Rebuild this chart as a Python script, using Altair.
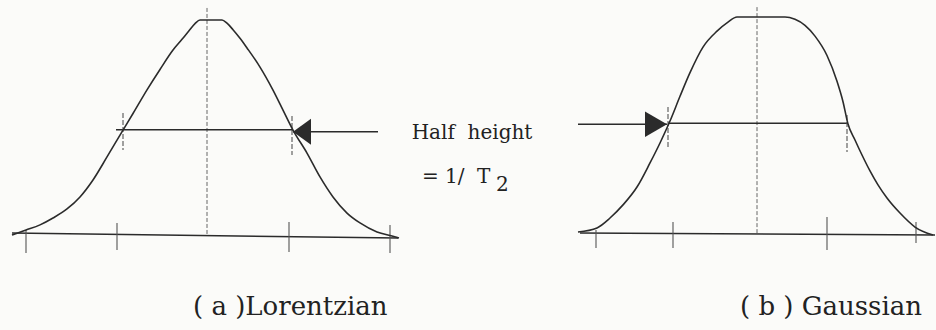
import altair as alt
import pandas as pd

# Line shapes: horizontal position and intensity (% of peak height)
LOR_X = [12, 26, 40, 53, 67, 80, 93, 107, 123, 133, 147, 160, 173, 182, 189, 195, 200,
         222, 227, 233, 240, 247, 260, 273, 283, 293, 307, 320, 333, 347, 360, 377, 392, 399]
LOR_I = [0, 2.3, 4.7, 7.9, 12.1, 17.7, 25.6, 36.3, 48.8, 56.5, 67.5, 77.0, 86.0, 91.0, 95.0, 98.3, 100,
         100, 98.5, 95.5, 91.5, 87.0, 78.1, 67.4, 58.1, 48.8, 38.1, 27.0, 17.7, 10.2, 5.6, 1.4, -0.5, -1.4]

GAU_X = [578, 597, 610, 623, 637, 650, 660, 670, 680, 690, 703, 717, 728, 737,
         785, 795, 805, 815, 827, 837, 843, 848, 855, 862, 870, 878, 887, 900, 915, 933]
GAU_I = [1.4, 3.3, 7.9, 14.0, 22.3, 33.5, 42.8, 53.0, 64.5, 75.5, 87.4, 94.8, 99.0, 101.4,
         101.4, 100.3, 97.5, 92.5, 83.5, 71.5, 62.0, 51.6, 44.2, 37.2, 29.8, 23.3, 17.2, 10.2, 3.7, 0]

# Baselines (x from, x to, level at each end)
BASE_X0 = [12, 580]
BASE_X1 = [398, 935]
BASE_I0 = [0.9, 0.9]
BASE_I1 = [-1.4, 0]

# Short marks along the baselines
TICK_X = [26, 117, 289, 390, 596, 673, 827, 916]
TICK_TOP = [2.3, 5.6, 6.0, 4.7, 2.3, 6.0, 8.4, 6.0]
TICK_BOT = [-8.4, -7.0, -7.9, -8.4, -6.0, -6.0, -7.0, -3.7]

# Centre lines of each peak
CENTER_X = [207, 757]
CENTER_TOP = [105.6, 106.0]
CENTER_BOT = [0, 0.9]

# Width at half height
HALF_X0 = [116, 668]
HALF_X1 = [293, 848]
HALF_I = [49, 52]
HALF_MARK_X = [123, 292, 668, 847]
HALF_MARK_TOP = [56.7, 55.3, 59.5, 55.8]
HALF_MARK_BOT = [39.5, 37.2, 40.5, 38.6]

# Pointers to the half-height crossings
ARROW_X0 = [293, 578]
ARROW_X1 = [378, 667]
ARROW_I = [48, 51.5]

Y_MIN, Y_MAX = -44.19, 109.3
INK = "#2b2b2b"
SERIF = "DejaVu Serif"

xs = alt.Scale(domain=[0, 936], nice=False, zero=False)
ys = alt.Scale(domain=[Y_MIN, Y_MAX], nice=False, zero=False)


def X(f):
    return alt.X(f, type="quantitative", scale=xs, axis=None)


def Y(f):
    return alt.Y(f, type="quantitative", scale=ys, axis=None)


curves = pd.concat([
    pd.DataFrame({"x": LOR_X, "i": LOR_I, "peak": "Lorentzian"}),
    pd.DataFrame({"x": GAU_X, "i": GAU_I, "peak": "Gaussian"}),
])
base = pd.DataFrame({"x0": BASE_X0, "x1": BASE_X1, "y0": BASE_I0, "y1": BASE_I1})
ticks = pd.DataFrame({"x": TICK_X, "y0": TICK_TOP, "y1": TICK_BOT})
centers = pd.DataFrame({"x": CENTER_X, "y0": CENTER_TOP, "y1": CENTER_BOT})
half = pd.DataFrame({"x0": HALF_X0, "x1": HALF_X1, "y": HALF_I})
half_marks = pd.DataFrame({"x": HALF_MARK_X, "y0": HALF_MARK_TOP, "y1": HALF_MARK_BOT})
shafts = pd.DataFrame({"x0": ARROW_X0, "x1": ARROW_X1, "y": ARROW_I})
head_left = pd.DataFrame({"x": [ARROW_X0[0]], "y": [ARROW_I[0]]})
head_right = pd.DataFrame({"x": [ARROW_X1[1]], "y": [ARROW_I[1]]})

line_layer = alt.Chart(curves).mark_line(
    color=INK, strokeWidth=1.6, interpolate="monotone"
).encode(x=X("x"), y=Y("i"), detail="peak:N")

base_layer = alt.Chart(base).mark_rule(color=INK, strokeWidth=1.5).encode(
    x=X("x0"), x2="x1", y=Y("y0"), y2="y1")

tick_layer = alt.Chart(ticks).mark_rule(color="#555", strokeWidth=1.1).encode(
    x=X("x"), y=Y("y0"), y2="y1")

center_layer = alt.Chart(centers).mark_rule(
    color="#666", strokeWidth=1, strokeDash=[4, 2]
).encode(x=X("x"), y=Y("y0"), y2="y1")

half_layer = alt.Chart(half).mark_rule(color=INK, strokeWidth=1.5).encode(
    x=X("x0"), x2="x1", y=Y("y"))

half_mark_layer = alt.Chart(half_marks).mark_rule(
    color="#555", strokeWidth=1.1, strokeDash=[5, 2]
).encode(x=X("x"), y=Y("y0"), y2="y1")

shaft_layer = alt.Chart(shafts).mark_rule(color=INK, strokeWidth=1.5).encode(
    x=X("x0"), x2="x1", y=Y("y"))

head_l = alt.Chart(head_left).mark_point(
    shape="M0,0L2,-1.45L2,1.45Z", size=324, filled=True, color=INK, opacity=1
).encode(x=X("x"), y=Y("y"))

head_r = alt.Chart(head_right).mark_point(
    shape="M0,0L-2,-1.15L-2,1.15Z", size=484, filled=True, color=INK, opacity=1
).encode(x=X("x"), y=Y("y"))

notes = pd.DataFrame({
    "x": [472],
    "y": [44.7],
    "t": ["Half\u00a0\u00a0height"],
})
note_layer = alt.Chart(notes).mark_text(
    font=SERIF, fontSize=20, color="#222", align="center", baseline="alphabetic"
).encode(x=X("x"), y=Y("y"), text="t:N")

eq = pd.DataFrame({"x": [422, 477], "y": [24.2, 24.2], "t": ["= 1/", "T"]})
eq_layer = alt.Chart(eq).mark_text(
    font=SERIF, fontSize=20, color="#222", align="left", baseline="alphabetic"
).encode(x=X("x"), y=Y("y"), text="t:N")

sub = pd.DataFrame({"x": [496], "y": [20.5], "t": ["2"]})
sub_layer = alt.Chart(sub).mark_text(
    font=SERIF, fontSize=20, color="#222", align="left", baseline="alphabetic"
).encode(x=X("x"), y=Y("y"), text="t:N")

captions = pd.DataFrame({"x": [193, 740], "y": [-37.2, -37.2],
                         "t": ["( a )Lorentzian", "( b ) Gaussian"]})
caption_layer = alt.Chart(captions).mark_text(
    font=SERIF, fontSize=26, color="#222", align="left", baseline="alphabetic"
).encode(x=X("x"), y=Y("y"), text="t:N")

chart = alt.layer(
    center_layer, base_layer, tick_layer, half_layer, half_mark_layer,
    line_layer, shaft_layer, head_l, head_r,
    note_layer, eq_layer, sub_layer, caption_layer,
).properties(
    width=936, height=330, padding=0, autosize="none", background="#fbfbf9"
).configure_view(stroke=None)

chart.save("out.html", embed_options={"renderer": "svg", "actions": False})
